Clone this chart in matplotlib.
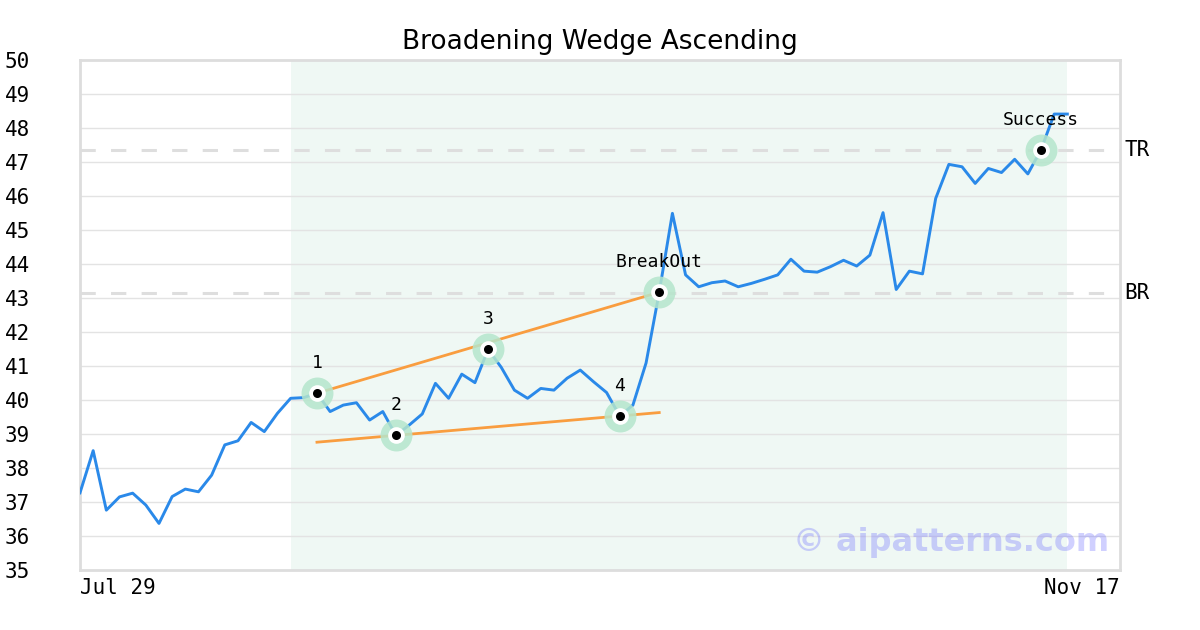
import numpy as np
import matplotlib
matplotlib.use("Agg")
import matplotlib.pyplot as plt

# daily closes, Jul 29 onward
prices = [37.27, 38.51, 36.76, 37.15, 37.26, 36.91, 36.37, 37.16, 37.38, 37.30,
          37.79, 38.68, 38.80, 39.34, 39.07, 39.61, 40.05, 40.07, 40.20, 39.66,
          39.85, 39.92, 39.41, 39.66, 38.96, 39.26, 39.59, 40.49, 40.05, 40.76,
          40.51, 41.49, 40.96, 40.29, 40.05, 40.34, 40.29, 40.64, 40.88, 40.54,
          40.22, 39.53, 39.85, 41.09, 43.17, 45.49, 43.68, 43.33, 43.45, 43.50,
          43.33, 43.43, 43.55, 43.68, 44.14, 43.79, 43.76, 43.92, 44.11, 43.94,
          44.26, 45.51, 43.25, 43.79, 43.71, 45.93, 46.93, 46.86, 46.37, 46.81,
          46.69, 47.08, 46.65, 47.36, 48.41, 48.41]

pivot_idx = [18, 24, 31, 41, 44, 73]
pivot_labels = ["1", "2", "3", "4", "BreakOut", "Success"]

pattern_start, pattern_end = 16, 75
n_days = 79
tick_labels = ["Jul 29", "Nov 17"]

TR = 47.35
BR = 43.15

blue = "#2a89e9"
orange = "#f99d3f"
mono = "DejaVu Sans Mono"

x = np.arange(len(prices))
y = np.array(prices)

fig = plt.figure(figsize=(12, 6.3), dpi=100)
ax = fig.add_axes([80 / 1200, 60 / 630, 1040 / 1200, 510 / 630])

ax.axvspan(pattern_start, pattern_end, color="#eff8f4", zorder=0, lw=0)
ax.set_axisbelow(True)
ax.yaxis.grid(True, color="#e3e3e3", lw=1)

ax.axhline(TR, color="#dedede", lw=2.2, ls=(0, (5, 5)), zorder=1)
ax.axhline(BR, color="#dedede", lw=2.2, ls=(0, (5, 5)), zorder=1)

ax.plot(x, y, color=blue, lw=2.1, zorder=3)

# wedge lines
p1, p2, p3, p4, pb = pivot_idx[:5]
ax.plot([p1, pb], [y[p1], y[pb]], color=orange, lw=2.0, zorder=4)
slope = (y[p4] - y[p2]) / (p4 - p2)
lx = np.array([p1, pb])
ax.plot(lx, y[p2] + slope * (lx - p2), color=orange, lw=2.0, zorder=4)

for i, lab in zip(pivot_idx, pivot_labels):
    ax.plot(i, y[i], "o", ms=23, color="#b5e6cc", alpha=0.85, mec="none", zorder=5)
    ax.plot(i, y[i], "o", ms=12, color="white", mec="none", zorder=6)
    ax.plot(i, y[i], "o", ms=6.5, color="black", mec="none", zorder=7)
    ax.annotate(lab, (i, y[i]), xytext=(0, 21.5), textcoords="offset points",
                ha="center", va="center", fontsize=13, family=mono, zorder=8)

ax.text(1.004, TR, "TR", transform=ax.get_yaxis_transform(), ha="left",
        va="center", fontsize=15, family=mono)
ax.text(1.004, BR, "BR", transform=ax.get_yaxis_transform(), ha="left",
        va="center", fontsize=15, family=mono)

ax.text(0.99, 0.053, "\u00a9 aipatterns.com", transform=ax.transAxes,
        ha="right", va="center", fontsize=23, fontweight="bold",
        color="#6464ff", alpha=0.3, zorder=9)

ax.set_xlim(0, n_days)
ax.set_ylim(35, 50)
ax.set_yticks(np.arange(35, 51, 1))
ax.set_xticks([0, n_days])
ax.set_xticklabels(tick_labels)
xt = ax.get_xticklabels()
xt[0].set_ha("left")
xt[1].set_ha("right")

ax.tick_params(axis="both", length=0, labelsize=15)
ax.tick_params(axis="y", pad=36)
ax.tick_params(axis="x", pad=6)
for lab in ax.get_xticklabels() + ax.get_yticklabels():
    lab.set_family(mono)

for s in ax.spines.values():
    s.set_color("#dddddd")
    s.set_linewidth(2)

ax.set_title("Broadening Wedge Ascending", fontsize=19, pad=8)

fig.savefig("out.png", dpi=100)
